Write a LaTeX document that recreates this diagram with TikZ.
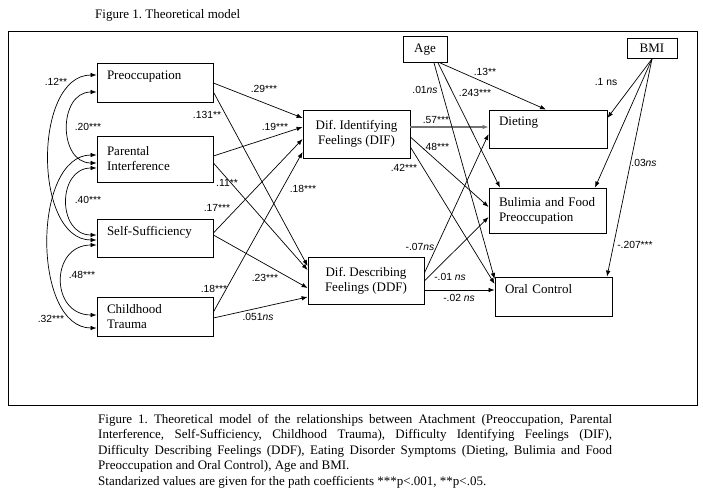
\documentclass[tikz,border=0pt]{standalone}
\usepackage{fontspec}
\setmainfont{Liberation Serif}
\newfontfamily\labfont{Liberation Sans}
\usetikzlibrary{arrows.meta}
\frenchspacing
\begin{document}
\begin{tikzpicture}[x=1pt,y=-1pt,
  box/.style={draw, line width=0.8pt, inner sep=0pt, font=\fontsize{13}{15}\selectfont},
  lbox/.style={box, align=left, inner xsep=10pt, text width=#1},
  cbox/.style={box, align=center},
  lab/.style={font=\labfont\fontsize{10.3}{12}\selectfont, inner sep=0pt},
  arr/.style={line width=0.7pt, -{Latex[length=6pt,width=4.5pt]}},
  dbl/.style={line width=0.7pt, {Latex[length=6pt,width=4.5pt]}-{Latex[length=6pt,width=4.5pt]}},
  txt/.style={inner sep=0pt, font=\fontsize{13}{15.5}\selectfont}
]
\useasboundingbox (0,0) rectangle (703,497);
\node[txt, anchor=west] (title) at (95,15) {Figure 1. Theoretical model};
\draw[line width=0.8pt] (8,31) rectangle (697,405);

% boxes
\node[lbox=96pt, minimum width=116pt, minimum height=39pt] (pre) at (155,82.5) {Preoccupation\\\mbox{}};
\node[lbox=96pt, minimum width=116pt, minimum height=46pt] (par) at (155,159) {Parental\\Interference};
\node[lbox=96pt, minimum width=116pt, minimum height=38pt] (ss) at (155,238) {Self-Sufficiency\\\mbox{}};
\node[lbox=96pt, minimum width=116pt, minimum height=39pt] (ct) at (155,316.5) {Childhood\\Trauma};
\node[cbox, minimum width=107pt, minimum height=48pt] (dif) at (356.5,134) {Dif. Identifying\\Feelings (DIF)};
\node[cbox, minimum width=116pt, minimum height=47pt] (ddf) at (366,280.5) {Dif. Describing\\Feelings (DDF)};
\node[cbox, minimum width=44pt, minimum height=26pt] (age) at (425,49.5) {Age};
\node[cbox, minimum width=50pt, minimum height=20pt] (bmi) at (652,48.5) {BMI};
\node[lbox=98pt, minimum width=118pt, minimum height=38pt] (diet) at (548,129) {Dieting\\\mbox{}};
\node[lbox=97pt, minimum width=117pt, minimum height=45pt] (bul) at (547.5,210.5) {Bulimia and Food\\Preoccupation};
\node[lbox=97pt, minimum width=117pt, minimum height=39pt] (oral) at (553.5,296.5) {Oral Control\\\mbox{}};

% attachment -> alexithymia
\draw[arr] (pre.east |- 0,83) -- (dif.west |- 0,118);
\draw[arr] (pre.east |- 0,92) -- (ddf.west |- 0,266);
\draw[arr] (par.east |- 0,156) -- (dif.west |- 0,127);
\draw[arr] (par.east |- 0,163) -- (ddf.west |- 0,270);
\draw[arr] (ss.east |- 0,233) -- (dif.west |- 0,139);
\draw[arr] (ss.east |- 0,235) -- (ddf.west |- 0,288);
\draw[arr] (ct.east |- 0,312) -- (dif.west |- 0,152);
\draw[arr] (ct.east |- 0,318) -- (ddf.west |- 0,297);

% alexithymia -> ED symptoms
\draw[arr, draw=black!55, line width=1.1pt] (dif.east |- 0,127) -- (diet.west |- 0,127);
\draw[arr] (dif.east |- 0,137) -- (bul.west |- 0,207);
\draw[arr] (dif.east |- 0,147) -- (oral.west |- 0,284);
\draw[arr] (ddf.east |- 0,273) -- (diet.west |- 0,134);
\draw[arr] (ddf.east |- 0,281) -- (bul.west |- 0,217);
\draw[arr] (ddf.east |- 0,290) -- (oral.west |- 0,290);

% Age
\draw[arr] (age.south -| 440,0) -- (diet.north -| 546,0);
\draw[arr] (age.south -| 438,0) -- (bul.north -| 500,0);
\draw[arr] (age.south -| 434,0) -- (oral.west |- 0,279);

% BMI
\draw[arr] (bmi.south) -- (diet.east |- 0,118);
\draw[arr] (bmi.south) -- (bul.north -| 595,0);
\draw[arr] (bmi.south) -- (oral.north -| 607,0);

% correlations
\draw[dbl] (pre.west |- 0,75) .. controls (33,75) and (33,240) .. (ss.west |- 0,240);
\draw[dbl] (pre.west |- 0,92) .. controls (58,92) and (58,163) .. (par.west |- 0,163);
\draw[dbl] (par.west |- 0,168) .. controls (57,168) and (57,235) .. (ss.west |- 0,235);
\draw[dbl] (ss.west |- 0,245) .. controls (50,245) and (50,315) .. (ct.west |- 0,315);
\draw[dbl] (par.west |- 0,155) .. controls (32,155) and (32,328) .. (ct.west |- 0,328);

% labels
\node[lab] (l12) at (56,82) {.12**};
\node[lab] (l20) at (88,127) {.20***};
\node[lab] (l40) at (88,200) {.40***};
\node[lab] (l48) at (82,275) {.48***};
\node[lab] (l32) at (51,319) {.32***};
\node[lab] (l29) at (264,89) {.29***};
\node[lab] (l131) at (207,115) {.131**};
\node[lab] (l19) at (275,127) {.19***};
\node[lab] (l11) at (227,183) {.11**};
\node[lab] (l17) at (217,208) {.17***};
\node[lab] (l18a) at (303,189) {.18***};
\node[lab] (l23) at (265,278) {.23***};
\node[lab] (l18b) at (214,289) {.18***};
\node[lab] (l051) at (258,317) {.051\textit{ns}};
\node[lab] (l01) at (425,90) {.01\textit{ns}};
\node[lab] (l13) at (485,72) {.13**};
\node[lab] (l243) at (475,93) {.243***};
\node[lab] (l57) at (436,120) {.57***};
\node[lab] (l48b) at (436,147) {.48***};
\node[lab] (l42) at (404,168) {.42***};
\node[lab] (l07) at (420,247) {-.07\textit{ns}};
\node[lab] (l01b) at (450,277) {-.01 \textit{ns}};
\node[lab] (l02) at (459,298) {-.02 \textit{ns}};
\node[lab] (l1) at (606,82) {.1 ns};
\node[lab] (l03) at (644,163) {.03\textit{ns}};
\node[lab] (l207) at (635,245) {-.207***};

% caption
\node[txt, anchor=north west, align=left] (cap) at (98,414) {%
\makebox[514pt][s]{Figure 1. Theoretical model of the relationships between Atachment (Preoccupation, Parental}\\
\makebox[514pt][s]{Interference, Self-Sufficiency, Childhood Trauma), Difficulty Identifying Feelings (DIF),}\\
\makebox[514pt][s]{Difficulty Describing Feelings (DDF), Eating Disorder Symptoms (Dieting, Bulimia and Food}\\
Preoccupation and Oral Control), Age and BMI.\\
Standarized values are given for the path coefficients ***p<.001, **p<.05.};
\end{tikzpicture}
\end{document}
